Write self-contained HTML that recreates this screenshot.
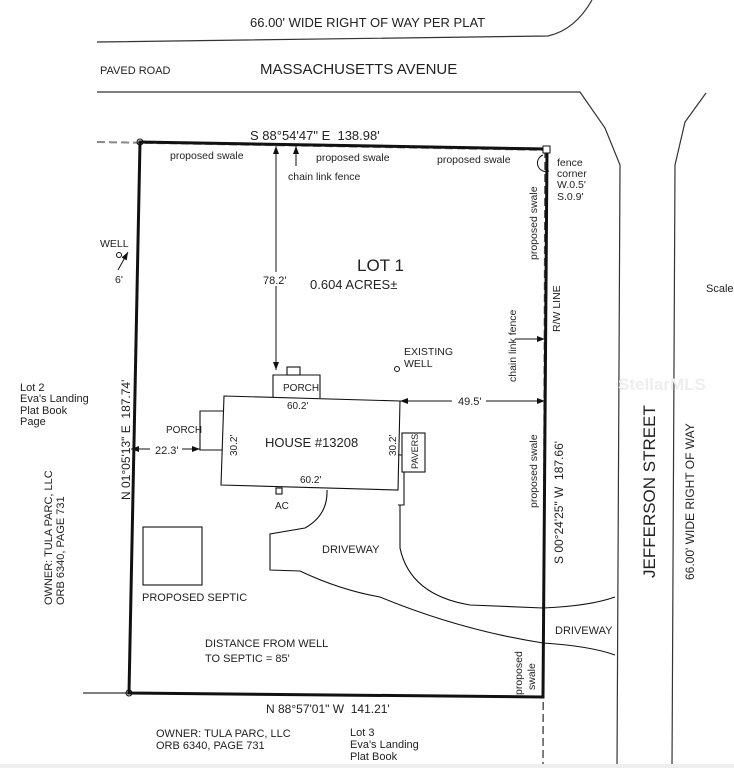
<!DOCTYPE html>
<html><head><style>
body{margin:0;background:#fff}
svg{display:block}
text{font-family:"Liberation Sans",sans-serif;fill:#222}
</style></head><body>
<svg width="734" height="768" viewBox="0 0 734 768" xmlns="http://www.w3.org/2000/svg">
<defs><marker id="a" markerWidth="8" markerHeight="6" refX="8" refY="3" orient="auto"><path d="M0,0 L8,3 L0,6z" fill="#111"/></marker></defs>
<g fill="none" stroke="#333" stroke-width="1.2">
<path d="M97,42 L548,36 Q575,30 592,0"/>
<path d="M97,92 L580,92 L605,128 L620,165 L617,768"/>
<path d="M706,93 L685,122 L675,165 L672,768"/>
<path d="M83,693 L129,693"/>
</g>
<text x="250" y="27" font-size="13">66.00' WIDE RIGHT OF WAY PER PLAT</text>
<text x="100" y="74" font-size="11">PAVED ROAD</text>
<text x="260" y="74" font-size="15">MASSACHUSETTS AVENUE</text>
<path d="M97,142 L547,150" stroke="#888" stroke-width="2" stroke-dasharray="8,4" fill="none"/>
<path d="M545,150 L543,768" stroke="#555" stroke-width="1.5" stroke-dasharray="8,4" fill="none"/>
<path d="M140,142 L547,149 L543,697 L129,693 Z" fill="none" stroke="#111" stroke-width="3"/>
<circle cx="140" cy="142" r="3" fill="none" stroke="#111"/>
<circle cx="129" cy="693" r="3" fill="none" stroke="#111"/>
<rect x="543" y="146" width="7" height="7" fill="#fff" stroke="#111"/>
<path d="M543,155 a6,6 0 0,0 6,16" fill="none" stroke="#111"/>
<text x="250" y="140" font-size="13">S 88°54'47" E&#160;&#160;138.98'</text>
<g font-size="10.5"><text x="170" y="159">proposed swale</text><text x="316" y="161">proposed swale</text><text x="437" y="163">proposed swale</text>
<text x="288" y="180">chain link fence</text>
<text x="557" y="166">fence</text><text x="557" y="177">corner</text><text x="557" y="188">W.0.5'</text><text x="557" y="200">S.0.9'</text></g>
<g stroke="#111" fill="none"><line x1="276" y1="366" x2="276" y2="146" marker-end="url(#a)"/><line x1="276" y1="146" x2="276" y2="370" marker-end="url(#a)"/>
<line x1="296" y1="166" x2="296" y2="146" marker-end="url(#a)"/>
<line x1="515" y1="339" x2="545" y2="339" marker-end="url(#a)"/>
<line x1="118" y1="270" x2="128" y2="252" marker-end="url(#a)"/>
<line x1="470" y1="401" x2="400" y2="401" marker-end="url(#a)"/><line x1="470" y1="401" x2="545" y2="401" marker-end="url(#a)"/>
<line x1="150" y1="449" x2="131" y2="449" marker-end="url(#a)"/><line x1="180" y1="449" x2="200" y2="449" marker-end="url(#a)"/></g>
<rect x="262" y="272" width="28" height="14" fill="#fff"/>
<text x="263" y="284" font-size="11">78.2'</text>
<text x="357" y="271" font-size="17">LOT 1</text>
<text x="310" y="289" font-size="13">0.604 ACRES±</text>
<text x="100" y="247" font-size="10.5">WELL</text>
<circle cx="119" cy="255" r="2.5" fill="none" stroke="#111"/>
<text x="115" y="283" font-size="10.5">6'</text>
<text x="706" y="292" font-size="11">Scale</text>
<g font-size="10.5">
<text transform="translate(537,260) rotate(-90)">proposed swale</text>
<text transform="translate(560,332) rotate(-90)">R/W LINE</text>
<text transform="translate(516,382) rotate(-90)">chain link fence</text>
<text x="404" y="355">EXISTING</text><text x="404" y="367">WELL</text>
</g>
<circle cx="397" cy="369" r="2.5" fill="none" stroke="#111"/>
<g fill="none" stroke="#111" stroke-width="1.1">
<rect x="287" y="367" width="13" height="8"/>
<path d="M273,397 L273,375 L320,375 L320,398"/>
<path d="M224,396 L400,401 L398,490 L221,485 Z"/>
<path d="M224,411 L200,411 L200,450 L222,450"/>
<rect x="402" y="433" width="23" height="39"/>
<path d="M398,455 L402,455 M402,472 L404,472 L404,505 L398,505"/>
<rect x="276" y="488" width="6" height="6"/>
<rect x="143" y="527" width="59" height="58"/>
<path d="M327,490 Q328,515 305,528 L270,534 L270,570 L300,571 Q340,590 380,597 Q460,630 543,643 Q590,646 615,655"/>
<path d="M400,505 L400,548 Q410,595 470,605 L543,608 Q590,606 615,597"/>
</g>
<text x="166" y="433" font-size="10">PORCH</text>
<text x="283" y="391" font-size="10">PORCH</text>
<rect x="150" y="443" width="32" height="12" fill="#fff"/>
<text x="155" y="454" font-size="11">22.3'</text>
<rect x="452" y="395" width="34" height="12" fill="#fff"/>
<text x="458" y="405" font-size="11">49.5'</text>
<text x="287" y="409" font-size="10">60.2'</text>
<text x="300" y="483" font-size="10">60.2'</text>
<text x="265" y="447" font-size="13">HOUSE #13208</text>
<text transform="translate(237,456) rotate(-90)" font-size="10">30.2'</text>
<text transform="translate(396,456) rotate(-90)" font-size="10">30.2'</text>
<text transform="translate(418,469) rotate(-90)" font-size="9">PAVERS</text>
<text x="275" y="509" font-size="10">AC</text>
<text x="322" y="553" font-size="11">DRIVEWAY</text>
<text x="555" y="634" font-size="11">DRIVEWAY</text>
<text x="142" y="601" font-size="11">PROPOSED SEPTIC</text>
<text x="205" y="647" font-size="11">DISTANCE FROM WELL</text>
<text x="205" y="662" font-size="11">TO SEPTIC = 85'</text>
<text transform="translate(563,564) rotate(-90)" font-size="12">S 00°24'25" W&#160;&#160;187.66'</text>
<text transform="translate(537,508) rotate(-90)" font-size="10.5">proposed swale</text>
<text transform="translate(522,695) rotate(-90)" font-size="10.5">proposed</text>
<text transform="translate(535,690) rotate(-90)" font-size="10.5">swale</text>
<text transform="translate(655,578) rotate(-90)" font-size="17">JEFFERSON STREET</text>
<text transform="translate(694,580) rotate(-90)" font-size="12">66.00' WIDE RIGHT OF WAY</text>
<text transform="translate(130,500) rotate(-90)" font-size="12">N 01°05'13" E&#160;&#160;187.74'</text>
<g font-size="11"><text x="20" y="391">Lot 2</text><text x="20" y="402">Eva's Landing</text><text x="20" y="414">Plat Book</text><text x="20" y="425">Page</text></g>
<text transform="translate(52,605) rotate(-90)" font-size="11">OWNER: TULA PARC, LLC</text>
<text transform="translate(64,605) rotate(-90)" font-size="11">ORB 6340, PAGE 731</text>
<text x="266" y="713" font-size="12">N 88°57'01" W&#160;&#160;141.21'</text>
<g font-size="11"><text x="156" y="737">OWNER: TULA PARC, LLC</text><text x="156" y="749">ORB 6340, PAGE 731</text>
<text x="350" y="736">Lot 3</text><text x="350" y="748">Eva's Landing</text><text x="350" y="760">Plat Book</text></g>
<text x="618" y="390" font-size="17" font-weight="bold" style="fill:#eeeeee">StellarMLS</text>
<rect x="0" y="764" width="734" height="4" fill="#eee"/>
</svg>
</body></html>
